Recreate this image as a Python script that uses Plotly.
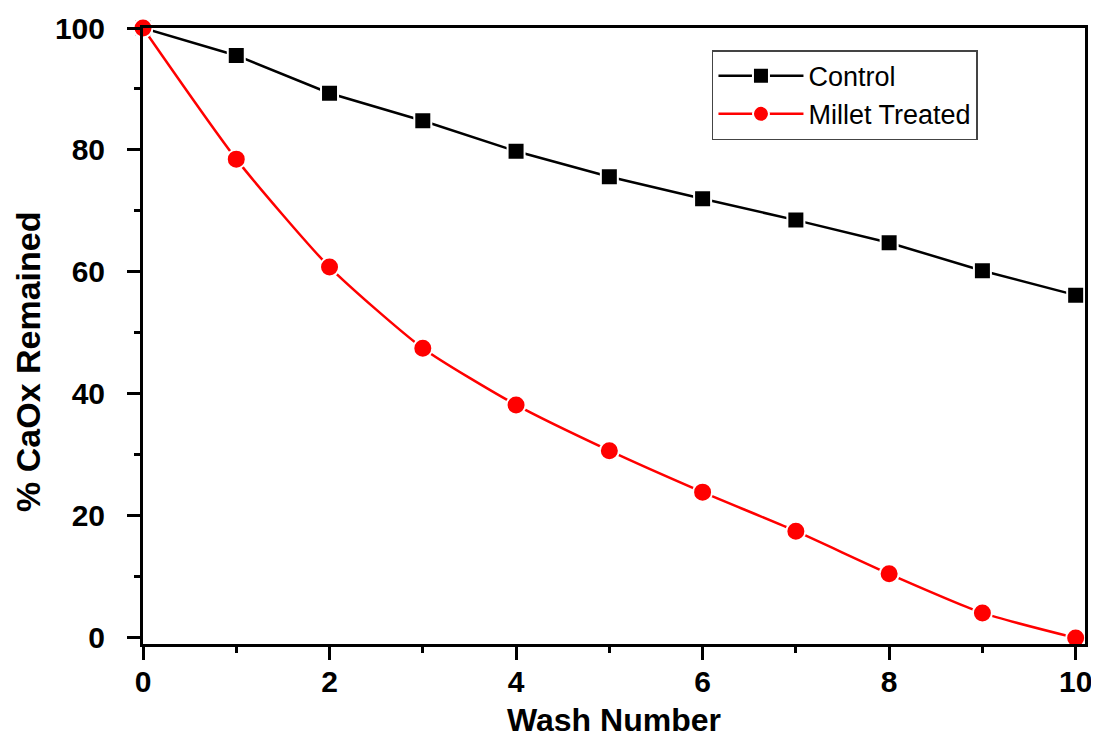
import plotly.graph_objects as go

wash = [0, 1, 2, 3, 4, 5, 6, 7, 8, 9, 10]
control = [100, 95.5, 89.3, 84.8, 79.8, 75.6, 72.0, 68.5, 64.8, 60.2, 56.2]
millet = [100, 78.5, 60.8, 47.5, 38.2, 30.7, 23.9, 17.5, 10.5, 4.1, 0.0]

FONT = "Liberation Sans, Arial, sans-serif"

fig = go.Figure()
fig.add_trace(go.Scatter(
    x=wash, y=control, name="Control", mode="lines+markers",
    line=dict(color="black", width=2.5),
    marker=dict(symbol="square", size=17, color="black", line=dict(color="white", width=2)),
    cliponaxis=False,
))
fig.add_trace(go.Scatter(
    x=wash, y=millet, name="Millet Treated", mode="lines+markers",
    line=dict(color="#ff0000", width=2.5, shape="spline", smoothing=0.6),
    marker=dict(symbol="circle", size=19, color="#ff0000", line=dict(color="white", width=2)),
    cliponaxis=False,
))

axis_common = dict(
    showline=True, linecolor="black", linewidth=3, mirror=True,
    showgrid=False, zeroline=False, automargin=False,
    ticks="outside", tickcolor="black", tickwidth=3, ticklen=13,
    tickfont=dict(family=FONT, size=30, color="black", weight="bold"),
)

fig.update_xaxes(
    range=[0, 10.1], tickvals=[0, 2, 4, 6, 8, 10],
    minor=dict(dtick=1, ticks="outside", ticklen=6, tickwidth=3, tickcolor="black"),
    ticklabelstandoff=-4,
    **axis_common,
)
fig.update_yaxes(
    range=[-1, 100], tickvals=[0, 20, 40, 60, 80, 100],
    minor=dict(dtick=10, tick0=0, ticks="outside", ticklen=6, tickwidth=3, tickcolor="black"),
    ticklabelstandoff=16,
    **axis_common,
)

fig.add_annotation(
    text="% CaOx Remained", textangle=-90,
    xref="paper", yref="paper", x=-0.122, y=0.458,
    xanchor="center", yanchor="middle", showarrow=False,
    font=dict(family=FONT, size=34, color="black", weight="bold"),
)
fig.add_annotation(
    text="Wash Number",
    xref="paper", yref="paper", x=0.5, y=-0.124,
    xanchor="center", yanchor="middle", showarrow=False,
    font=dict(family=FONT, size=32, color="black", weight="bold"),
)

fig.update_layout(
    width=1091, height=730,
    margin=dict(l=135, r=14, t=20, b=94, autoexpand=False),
    paper_bgcolor="white", plot_bgcolor="white",
    showlegend=True,
    legend=dict(
        x=0.604, y=0.964, xanchor="left", yanchor="top",
        bgcolor="white", bordercolor="#444", borderwidth=1.5,
        font=dict(family=FONT, size=27, color="black"),
        itemwidth=85, tracegroupgap=0,
    ),
)

fig.write_html("out.html")
